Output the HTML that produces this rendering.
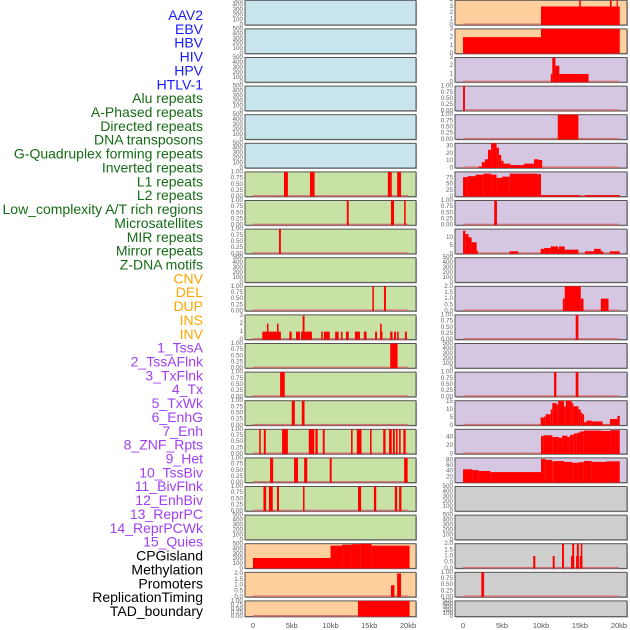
<!DOCTYPE html>
<html><head><meta charset="utf-8"><style>
html,body{margin:0;padding:0;background:#fff;width:630px;height:630px;overflow:hidden}
svg{display:block}
text{font-family:"Liberation Sans",sans-serif}
</style></head><body>
<svg id="chart" width="630" height="630" viewBox="0 0 630 630" xmlns="http://www.w3.org/2000/svg"></svg>
<script>
// Track labels and colours
const labels = ["AAV2","EBV","HBV","HIV","HPV","HTLV-1","Alu repeats","A-Phased repeats","Directed repeats","DNA transposons","G-Quadruplex forming repeats","Inverted repeats","L1 repeats","L2 repeats","Low_complexity A/T rich regions","Microsatellites","MIR repeats","Mirror repeats","Z-DNA motifs","CNV","DEL","DUP","INS","INV","1_TssA","2_TssAFlnk","3_TxFlnk","4_Tx","5_TxWk","6_EnhG","7_Enh","8_ZNF_Rpts","9_Het","10_TssBiv","11_BivFlnk","12_EnhBiv","13_ReprPC","14_ReprPCWk","15_Quies","CPGisland","Methylation","Promoters","ReplicationTiming","TAD_boundary"];
const groups = ["viral","viral","viral","viral","viral","viral","rep","rep","rep","rep","rep","rep","rep","rep","rep","rep","rep","rep","rep","sv","sv","sv","sv","sv","hmm","hmm","hmm","hmm","hmm","hmm","hmm","hmm","hmm","hmm","hmm","hmm","hmm","hmm","hmm","oth","oth","oth","oth","oth"];
const yMaxes = [500,500,500,500,500,500,1,1,1,500,1,3.1,1,1,1,1,1,1,500,510,2.1,1,4,3,3,1,1,34,99,1,15,500,2,1,500,1,15.5,58,87,500,500,2,1,500];
const xTicks = [0,5,10,15,20];
const xTickLabels = ["0","5kb","10kb","15kb","20kb"];
// segments: [startKb, endKb, value]
const segAlu = [[4.0,4.5,1],[7.35,7.95,1],[17.4,17.9,1],[18.6,19.1,1]];
const segAPhased = [[12.1,12.35,1],[17.8,18.2,1],[19.5,19.7,1]];
const segDirected = [[3.35,3.6,1]];
const segGQuad = [[15.4,15.6,1],[16.9,17.15,1]];
const segInverted = [[1.2,3.6,1],[1.8,2.0,2],[3.1,3.3,2],[4.7,5.0,1],[5.55,6.05,1],[6.2,7.6,1],[6.4,6.65,3],[8.8,9.0,1],[9.15,9.9,1],[10.6,11.05,1],[11.35,11.55,1],[12.0,12.35,1],[13.15,13.8,1],[14.3,14.65,1],[15.75,16.0,1],[16.4,16.7,1],[16.4,16.6,2],[17.7,18.0,1],[18.2,18.45,1],[18.6,18.8,1],[19.6,19.85,1]];
const segL1 = [[17.7,18.65,1]];
const segL2 = [[3.5,4.1,1]];
const segLowComplex = [[5.0,5.4,1],[6.3,6.65,1]];
const segMicrosat = [[0.8,1.0,1],[1.4,1.65,1],[3.75,4.5,1],[7.2,7.9,1],[8.05,8.35,1],[9.0,9.25,1],[12.65,12.85,1],[13.4,14.0,1],[15.1,15.3,1],[16.8,17.1,1],[17.55,17.9,1],[18.05,18.3,1],[18.45,18.65,1],[18.85,19.05,1],[19.4,19.7,1]];
const segMIR = [[2.2,2.6,1],[5.3,5.8,1],[6.6,7.0,1],[9.9,10.15,1],[19.5,19.95,1]];
const segMirror = [[1.35,1.7,1],[2.05,2.55,1],[3.1,3.35,1],[6.45,6.65,1],[13.55,13.95,1],[15.6,15.9,1],[18.3,18.6,1],[18.85,19.15,1]];
const segCNV = [[0,10,215],[10,11.5,470],[11.5,12.7,490],[12.7,13.85,500],[13.85,15.3,510],[15.3,20.2,470]];
const segDEL = [[17.8,18.25,1],[18.6,19.1,2]];
const segDUP = [[13.55,20.2,1]];
const segINS = [[10.0,20.1,3],[14.9,15.1,4],[18.85,19.05,4],[19.7,19.85,4]];
const segINV = [[0,10,2],[10,20.1,3]];
const segTssA = [[11.25,11.45,1],[11.45,11.85,3],[11.85,12.35,2],[12.35,16.1,1]];
const segTssAFlnk = [[0,0.25,1]];
const segTxFlnk = [[12.15,14.8,1]];
const segTx = [[2.0,2.4,2],[2.4,2.8,8],[2.8,3.2,12],[3.2,3.6,25],[3.6,4.3,34],[4.3,4.6,28],[4.6,4.9,18],[4.9,5.2,10],[5.2,6.1,6],[6.1,7.8,4],[7.8,9.1,6],[9.1,9.7,12],[9.7,10.15,11]];
const segTxWk = [[0,0.6,78],[0.6,1.6,82],[1.6,2.6,88],[2.6,3.6,92],[3.6,4.3,88],[4.3,5.0,75],[5.0,6.0,80],[6.0,9.5,92],[9.5,10.0,90],[10.0,14.95,6],[14.95,15.6,2],[15.6,20.1,6]];
const segEnhG = [[4.0,4.35,1]];
const segEnh = [[0,0.3,14],[0.3,0.7,12],[0.7,1.1,10],[1.1,1.75,7],[1.75,1.9,2],[5.96,7.07,1.5],[9.95,10.4,3],[10.4,11.24,3.5],[11.24,12.18,4.5],[12.18,12.3,3],[12.3,13.04,4.5],[13.04,14.8,2.5],[15.65,16.8,1.5],[16.8,17.67,3],[17.67,18.0,1.5],[18.83,20.1,1.5]];
const segHet = [[12.8,13.04,1],[13.04,15.1,2],[15.1,15.45,1],[17.67,18.66,1]];
const segTssBiv = [[14.45,14.8,1]];
const segEnhBiv = [[11.67,11.97,1],[14.45,14.8,1]];
const segReprPC = [[9.95,10.38,5],[10.38,10.6,5.5],[10.6,11.24,7],[11.24,11.45,10],[11.45,12.0,14],[12.0,12.2,13],[12.2,12.95,16],[12.95,13.17,12],[13.17,13.94,16],[13.94,14.15,14],[14.15,14.8,12],[14.8,15.1,10],[15.1,15.3,8],[15.3,15.53,7],[15.53,15.83,2],[15.83,16.5,3],[16.5,17.9,2.5],[17.9,18.83,0.5],[18.83,19.8,4],[19.8,20.1,6]];
const segReprPCWk = [[10.0,10.3,42],[10.3,11.45,44],[11.45,12.3,40],[12.3,12.7,38],[12.7,13.4,43],[13.4,13.7,40],[13.7,14.2,45],[14.2,14.6,48],[14.6,15.0,50],[15.0,15.5,53],[15.5,17.7,55],[17.7,18.9,54],[18.9,20.1,56]];
const segQuies = [[0,1.2,47],[1.2,2.0,44],[2.0,3.5,41],[3.5,10.0,37],[10.0,10.6,83],[10.6,11.45,80],[11.45,11.65,74],[11.65,12.95,76],[12.95,14.0,73],[14.0,14.8,70],[14.8,15.5,72],[15.5,16.5,76],[16.5,18.4,73],[18.4,20.1,75]];
const segPromoters = [[9.0,9.27,1],[11.5,11.75,1],[12.7,12.95,2],[13.85,14.25,1],[14.0,14.25,2],[14.5,14.85,1],[14.6,14.85,2],[14.97,15.3,1],[15.1,15.3,2]];
const segRepTiming = [[2.35,2.7,1]];
const trackSegs = [null,null,null,null,null,null,segAlu,segAPhased,segDirected,null,segGQuad,segInverted,segL1,segL2,segLowComplex,segMicrosat,segMIR,segMirror,null,segCNV,segDEL,segDUP,segINS,segINV,segTssA,segTssAFlnk,segTxFlnk,segTx,segTxWk,segEnhG,segEnh,null,segHet,segTssBiv,null,segEnhBiv,segReprPC,segReprPCWk,segQuies,null,null,segPromoters,segRepTiming,null];
const tickSets = {"500":[0,100,200,300,400,500],"510":[0,100,200,300,400,500],"1":[0,0.25,0.5,0.75,1],"2":[0,0.5,1,1.5,2],"2.1":[0,0.5,1,1.5,2],"3":[0,1,2,3],"3.1":[0,1,2,3],"4":[0,1,2,3,4],"34":[0,10,20,30],"99":[0,25,50,75],"15":[0,5,10],"15.5":[0,5,10,15],"58":[0,20,40],"87":[0,20,40,60,80]};

const NS="http://www.w3.org/2000/svg";
const svg=document.getElementById('chart');
function mk(tag,attrs,parent){const e=document.createElementNS(NS,tag);for(const k in attrs)e.setAttribute(k,attrs[k]);(parent||svg).appendChild(e);return e;}
const colors={viral:"#1a1aff",rep:"#166b16",sv:"#ffa500",hmm:"#a040f0",oth:"#000"};
const bgs={viral:"#c8e4ec",rep:"#c8e1a5",sv:"#ffd09e",hmm:"#d5c6e2",oth:"#cecece"};
// labels
labels.forEach((l,i)=>{
  const t=mk('text',{x:203,y:15+13.86*i,'text-anchor':'end','dominant-baseline':'central','font-size':'14',fill:colors[groups[i]]});
  
  
  t.textContent=l;
});
const cols=[{x0:245,x1:416},{x0:455,x1:627}];
function xScale(c,kb){const k=cols[c];const w=k.x1-k.x0;return k.x0+(kb+1.03)/22.06*w;}
function fmt(v,ym){if(ym===1)return v.toFixed(2);if(ym===2||ym===2.1)return v.toFixed(1);return String(v);}
for(let i=0;i<44;i++){
  const c=i<22?0:1,r=i%22;
  const top=r*28.6+0.3, h=r===21?15.7:24.7;
  const g=mk('g',{});
  
  
  const k=cols[c];
  mk('rect',{x:k.x0+1,y:top+1,width:k.x1-k.x0,height:h,fill:'#aaa'},g);
  mk('rect',{x:k.x0,y:top,width:k.x1-k.x0,height:h,fill:bgs[groups[i]],stroke:'#555','stroke-width':1},g);
  const ym=yMaxes[i];
  const yS=v=>top+h-v/ym*h;
  const segs=trackSegs[i];
  if(segs){
    mk('rect',{x:xScale(c,0),y:top+h-1.5,width:xScale(c,20)-xScale(c,0),height:1.5,fill:'#d07070'},g);
    segs.forEach(s=>{
      const b=mk('rect',{x:xScale(c,s[0]),y:yS(Math.min(s[2],ym)),width:Math.max(1,xScale(c,s[1])-xScale(c,s[0])),height:top+h-yS(Math.min(s[2],ym)),fill:'#ff0000'},g);
      
      
    });
  }
  const ticks=tickSets[String(ym)]||[0,ym];
  ticks.forEach(v=>{
    const t=mk('text',{x:k.x0-2,y:yS(v),'text-anchor':'end','dominant-baseline':'central','font-size':'6.3',fill:'#666'},g);
    t.textContent=fmt(v,ym);
  });
}
[0,1].forEach(c=>{
  xTicks.forEach((v,j)=>{
    const t=mk('text',{x:xScale(c,v),y:628,'text-anchor':'middle','font-size':'7.5',fill:'#555'});
    
    
    t.textContent=xTickLabels[j];
  });
});
</script>
</body></html>
